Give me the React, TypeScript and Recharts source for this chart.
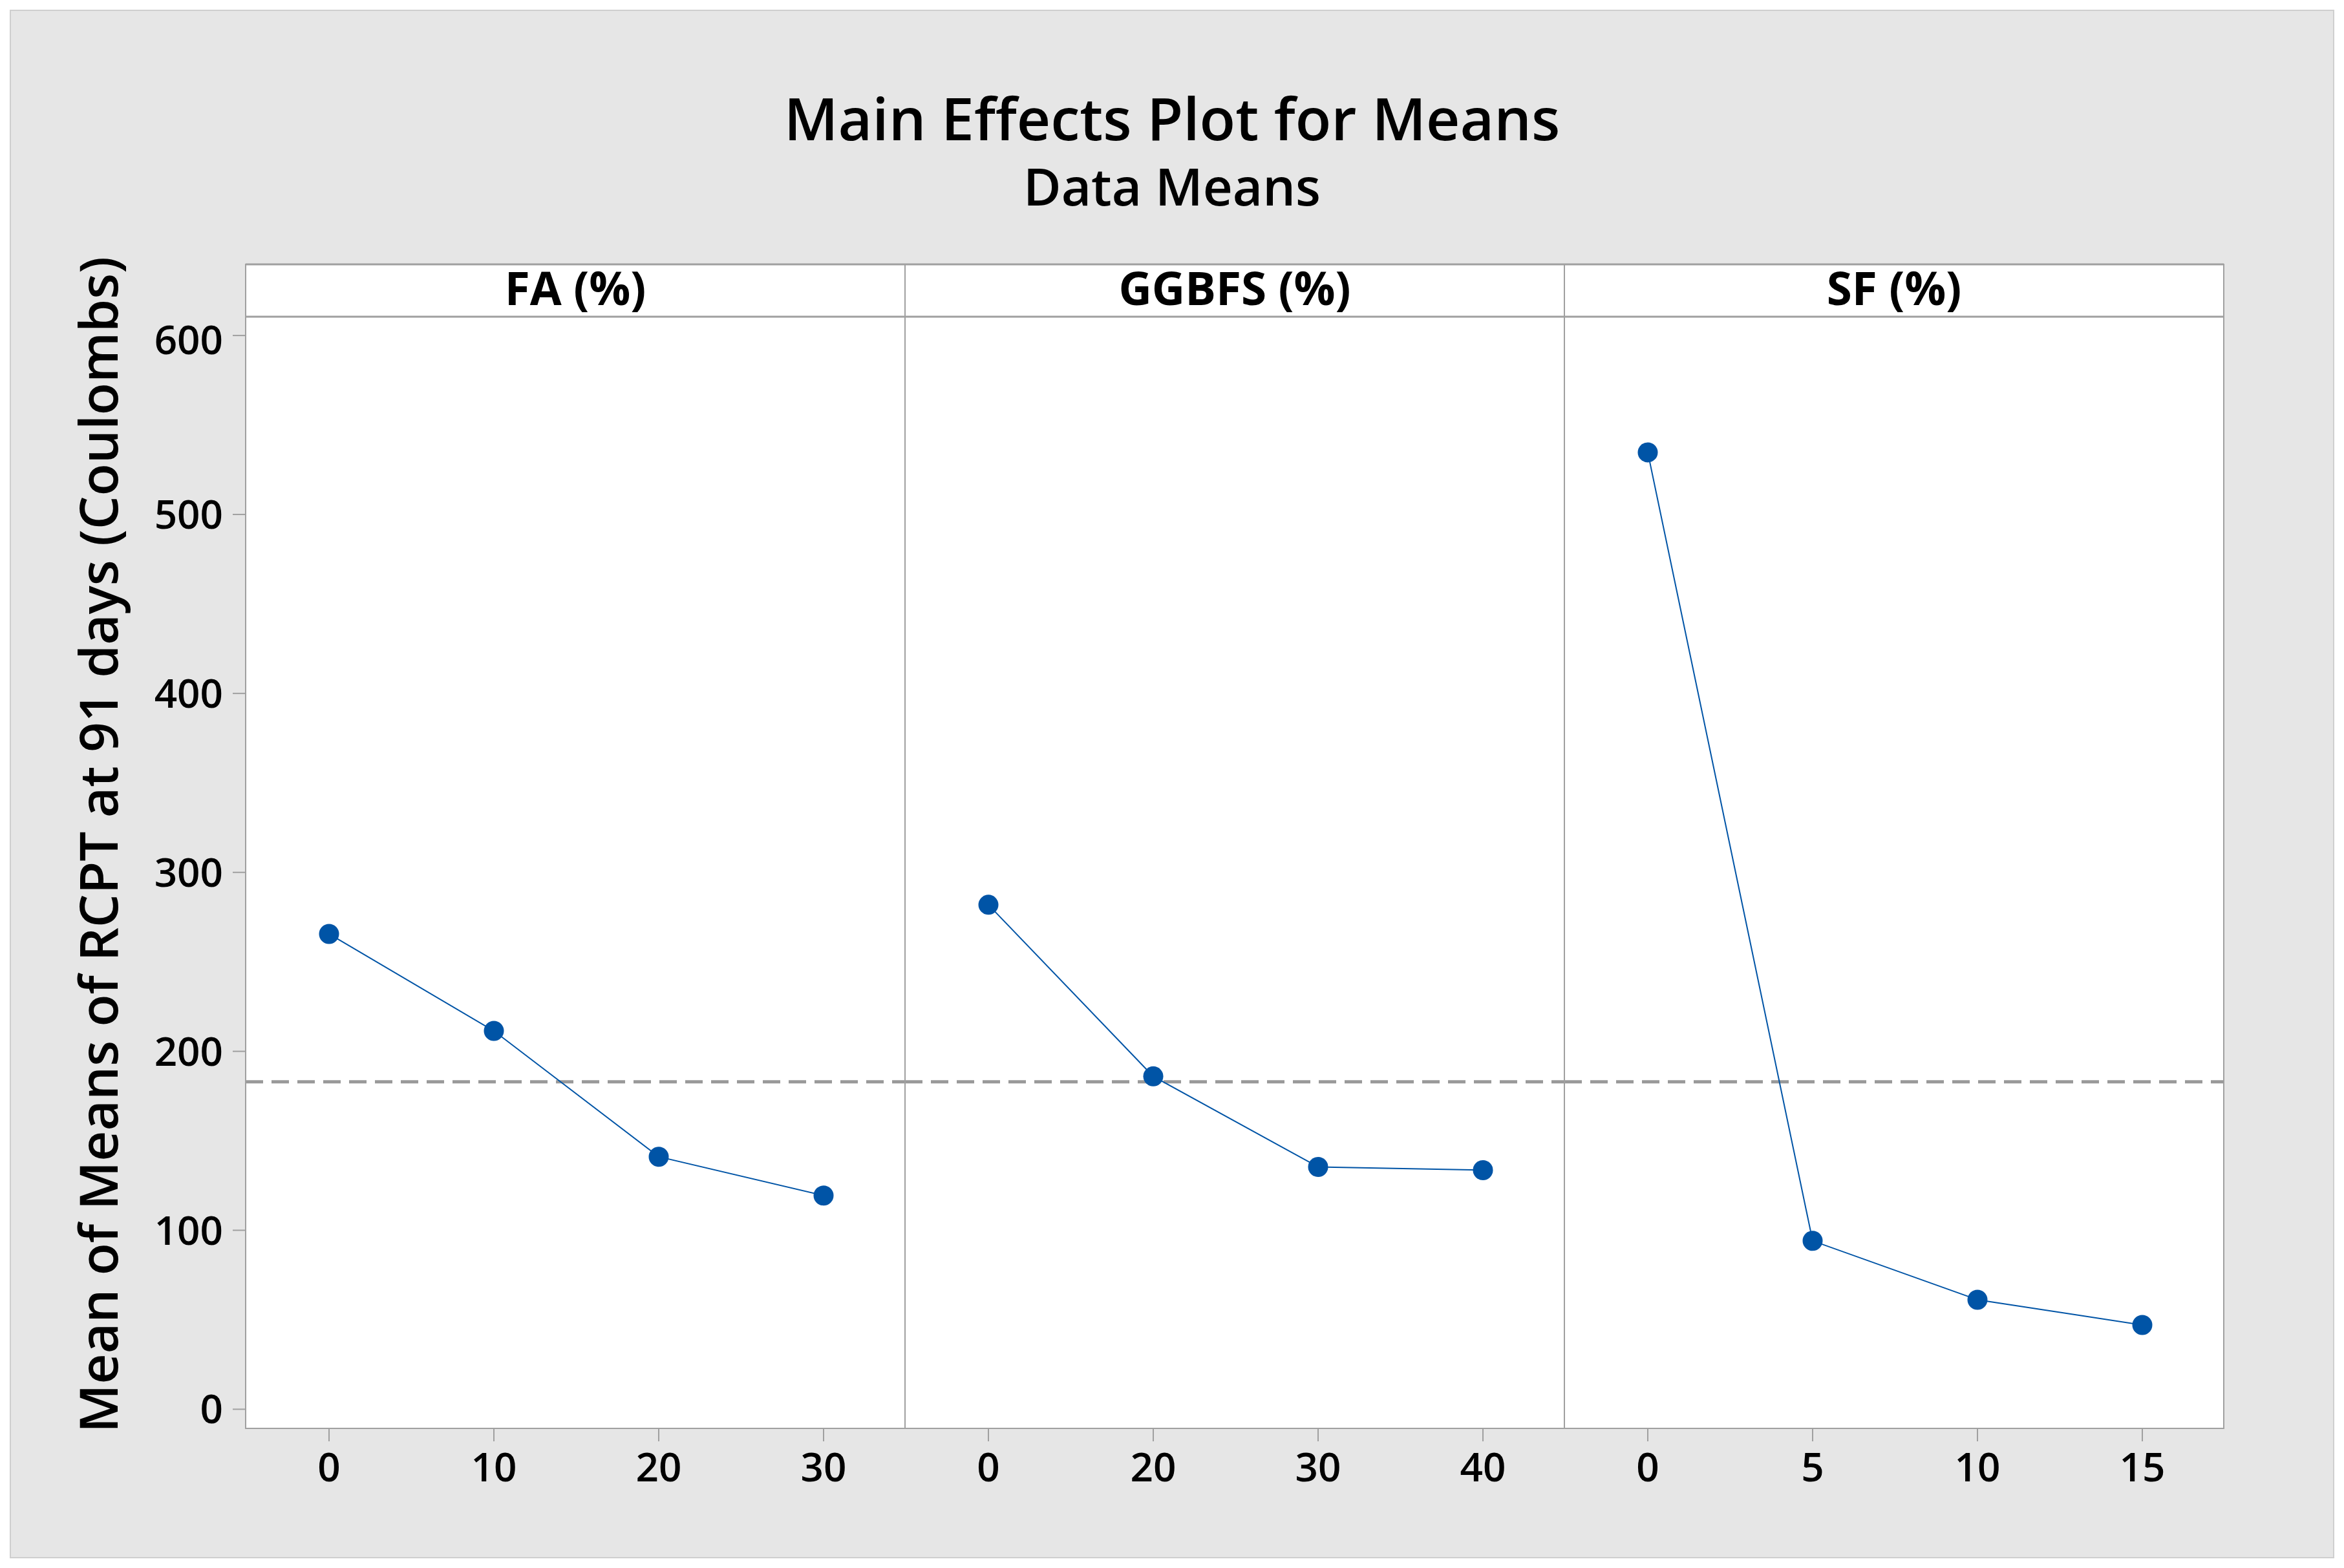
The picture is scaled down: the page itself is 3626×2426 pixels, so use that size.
import React from 'react';
import { LineChart, Line, XAxis, YAxis, ReferenceLine } from 'recharts';

const factorNames = ['FA (%)', 'GGBFS (%)', 'SF (%)'];
const faLevels = ['0', '10', '20', '30'];
const faMeans = [265.6, 211.4, 141.1, 119.4];
const ggbfsLevels = ['0', '20', '30', '40'];
const ggbfsMeans = [281.9, 186.0, 135.4, 133.6];
const sfLevels = ['0', '5', '10', '15'];
const sfMeans = [534.7, 94.1, 61.2, 47.1];
const grandMean = 183;
const yTicks = [0, 100, 200, 300, 400, 500, 600];

const FONT = "'Open Sans', 'Noto Sans', sans-serif";
const BLUE = '#0054A6';
const FRAME = '#A0A0A0';

const panels = [
  { name: factorNames[0], levels: faLevels, means: faMeans },
  { name: factorNames[1], levels: ggbfsLevels, means: ggbfsMeans },
  { name: factorNames[2], levels: sfLevels, means: sfMeans },
];

// frame geometry
const LEFT = 380;
const TOP = 409;
const HEADER_BOTTOM = 490;
const BOTTOM = 2210;
const PANEL_W = 1020;
const Y_AXIS_W = 200;
const X_AXIS_H = 110;

const Panel = ({ idx }: { idx: number }) => {
  const p = panels[idx];
  const data = p.levels.map((level, i) => ({ level, mean: p.means[i] }));
  const first = idx === 0;
  const width = PANEL_W + (first ? Y_AXIS_W : 0);
  const left = LEFT + idx * PANEL_W - (first ? Y_AXIS_W : 0);
  return (
    <div style={{ position: 'absolute', left, top: HEADER_BOTTOM }}>
      <LineChart
        width={width}
        height={BOTTOM - HEADER_BOTTOM + X_AXIS_H}
        data={data}
        margin={{ top: 0, right: 0, bottom: 0, left: 0 }}
      >
        <XAxis
          dataKey="level"
          type="category"
          interval={0}
          padding={{ left: 129, right: 126 }}
          height={X_AXIS_H}
          axisLine={false}
          tickSize={20}
          tickMargin={18}
          tickLine={{ stroke: FRAME, strokeWidth: 2 }}
          tick={{ fill: '#000', fontSize: 62, fontFamily: FONT, fontWeight: 600 }}
        />
        <YAxis
          hide={!first}
          width={Y_AXIS_W}
          type="number"
          domain={[-10.7, 610.5]}
          allowDataOverflow
          ticks={yTicks}
          axisLine={false}
          tickSize={20}
          tickMargin={15}
          tickLine={{ stroke: FRAME, strokeWidth: 2 }}
          tick={{ fill: '#000', fontSize: 62, fontFamily: FONT, fontWeight: 600 }}
        />
        <ReferenceLine y={grandMean} stroke="#999999" strokeWidth={5} strokeDasharray="27 13" ifOverflow="extendDomain" />
        <Line
          type="linear"
          dataKey="mean"
          stroke={BLUE}
          strokeWidth={2}
          dot={{ r: 15.5, fill: BLUE, stroke: BLUE, strokeWidth: 0 }}
          activeDot={false}
          isAnimationActive={false}
        />
      </LineChart>
    </div>
  );
};

export default function App() {
  return (
    <div style={{ position: 'absolute', left: 0, top: 0, width: 3626, height: 2426, background: '#fff', fontFamily: FONT }}>
      <div style={{ position: 'absolute', left: 15, top: 15, width: 3596, height: 2396, background: '#E6E6E6', border: '2px solid #CFCFCF', boxSizing: 'border-box' }} />
      {/* plot frame */}
      <div style={{ position: 'absolute', left: LEFT, top: TOP, width: PANEL_W * 3, height: BOTTOM - TOP, background: '#fff' }} />
      {panels.map((_, i) => <Panel key={i} idx={i} />)}
      <svg width={3626} height={2426} style={{ position: 'absolute', left: 0, top: 0, pointerEvents: 'none' }}>
        <rect x={LEFT} y={TOP} width={PANEL_W * 3} height={BOTTOM - TOP} fill="none" stroke={FRAME} strokeWidth={2} />
        <line x1={LEFT} x2={LEFT + PANEL_W * 3} y1={HEADER_BOTTOM} y2={HEADER_BOTTOM} stroke={FRAME} strokeWidth={3} />
        <line x1={LEFT} x2={LEFT + PANEL_W * 3} y1={TOP} y2={TOP} stroke={FRAME} strokeWidth={3} />
        {[1, 2].map((i) => (
          <line key={i} x1={LEFT + i * PANEL_W} x2={LEFT + i * PANEL_W} y1={TOP} y2={BOTTOM} stroke={FRAME} strokeWidth={2} />
        ))}
        {panels.map((p, i) => (
          <text key={p.name} x={LEFT + i * PANEL_W + PANEL_W / 2} y={472} textAnchor="middle" fontSize={71} fontWeight={700} fill="#000" fontFamily={FONT}>
            {p.name}
          </text>
        ))}
        <text x={1813} y={217} textAnchor="middle" fontSize={91} fontWeight={600} fill="#000" fontFamily={FONT}>
          Main Effects Plot for Means
        </text>
        <text x={1813} y={318} textAnchor="middle" fontSize={80} fontWeight={600} fill="#000" fontFamily={FONT}>
          Data Means
        </text>
        <text
          transform="translate(182, 1307) rotate(-90)"
          textAnchor="middle"
          fontSize={82}
          fontWeight={600}
          fill="#000"
          fontFamily={FONT}
        >
          Mean of Means of RCPT at 91 days (Coulombs)
        </text>
      </svg>
    </div>
  );
}
